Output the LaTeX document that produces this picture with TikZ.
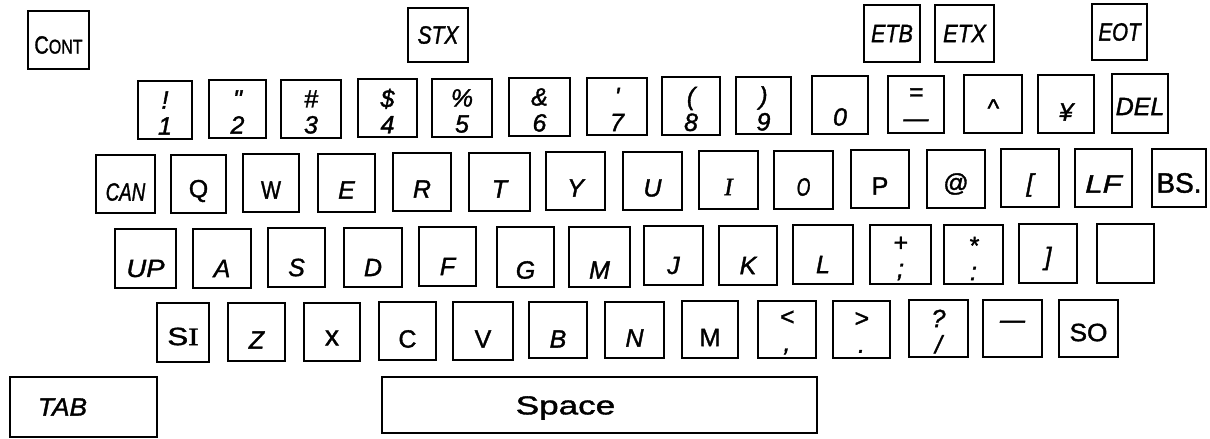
\documentclass[tikz,border=0pt]{standalone}
\usepackage{fontspec}
\usepackage{graphicx}
\newfontfamily\hand{Liberation Sans}[FakeBold=1.4]
\newfontfamily\handserif{Liberation Serif}[FakeBold=1.4]
\newcommand\sx[2]{\scalebox{#1}[1]{#2}}
\tikzset{
  key/.style={draw=black, line width=2.2pt, inner sep=0pt, outer sep=0pt},
  lab/.style={inner sep=0pt, outer sep=0pt, align=center, font=\hand\itshape\fontsize{25}{26}\selectfont},
}
% name, x1, y1, x2, y2, label, downward shift of label
\newcommand\kk[7]{%
  \node[key, minimum width={#4-#2}, minimum height={#5-#3}] (#1) at ({(#2+#4)/2},{(#3+#5)/2}) {};
  \node[lab] (#1t) at ([yshift={-(#7)}]#1.center) {#6};}
\begin{document}
\begin{tikzpicture}[x=1pt, y=-1pt]
\useasboundingbox (0,0) rectangle (1210,439);
% top row
\kk{kcont}{28}{11}{89}{69}{\upshape\sx{0.8}{C{\fontsize{20}{20}\selectfont ONT}}}{5}
\kk{kstx}{408}{8}{468}{62}{\sx{0.84}{STX}}{0}
\kk{ketb}{864}{5}{920}{62}{\sx{0.86}{ETB}}{0}
\kk{ketx}{935}{5}{994}{62}{\sx{0.88}{ETX}}{0}
\kk{keot}{1092}{4}{1147}{60}{\sx{0.82}{EOT}}{0}
% number row
\kk{n1}{138}{81}{192}{139}{!\\1}{3}
\kk{n2}{209}{80}{266}{138}{"\\2}{3}
\kk{n3}{281}{80}{341}{138}{\#\\3}{3}
\kk{n4}{358}{79}{417}{137}{\$\\4}{3}
\kk{n5}{432}{79}{492}{137}{\%\\5}{3}
\kk{n6}{509}{78}{570}{136}{\&\\6}{3}
\kk{n7}{587}{78}{647}{135}{'\\7}{3}
\kk{n8}{662}{77}{720}{135}{(\\8}{3}
\kk{n9}{736}{77}{791}{134}{)\\9}{3}
\kk{n0}{812}{76}{868}{134}{0}{12}
\kk{nminus}{888}{76}{944}{133}{=\\—}{3}
\kk{ncaret}{964}{75}{1022}{133}{\textasciicircum}{4}
\kk{nyen}{1038}{75}{1094}{133}{¥}{8}
\kk{ndel}{1112}{74}{1168}{133}{DEL}{3}
% QWERTY row
\kk{qcan}{96}{155}{155}{213}{\sx{0.75}{CAN}}{8}
\kk{qq}{171}{155}{226}{213}{\upshape Q}{7}
\kk{qw}{243}{154}{299}{212}{\upshape\sx{0.85}{W}}{7}
\kk{qe}{318}{154}{375}{212}{E}{7}
\kk{qr}{393}{153}{451}{211}{R}{7}
\kk{qt}{469}{153}{530}{211}{T}{7}
\kk{qy}{546}{152}{605}{210}{Y}{7}
\kk{qu}{623}{152}{682}{210}{U}{7}
\kk{qi}{699}{151}{758}{209}{{\handserif\itshape I}}{7}
\kk{qo}{774}{151}{833}{209}{\sx{0.7}{O}}{7}
\kk{qp}{851}{150}{909}{208}{\upshape P}{7}
\kk{qat}{927}{150}{985}{208}{\upshape @}{5}
\kk{qlbr}{1001}{149}{1059}{207}{[}{7}
\kk{qlf}{1075}{149}{1132}{207}{\sx{1.25}{LF}}{6}
\kk{qbs}{1152}{149}{1206}{207}{\upshape\fontsize{28}{28}\selectfont BS.}{5}
% ASDF row
\kk{aup}{115}{229}{176}{288}{\sx{1.1}{UP}}{10}
\kk{aa}{193}{229}{251}{288}{A}{10}
\kk{as}{268}{228}{325}{287}{S}{10}
\kk{ad}{344}{228}{402}{287}{D}{10}
\kk{af}{419}{227}{476}{286}{F}{10}
\kk{ag}{497}{227}{554}{287}{G}{13}
\kk{am}{569}{227}{630}{287}{M}{13}
\kk{aj}{644}{226}{703}{285}{J}{10}
\kk{ak}{719}{226}{777}{285}{K}{10}
\kk{al}{793}{225}{853}{284}{L}{10}
\kk{asemi}{870}{225}{931}{284}{+\\;}{4}
\kk{acolon}{944}{225}{1003}{284}{*\\:}{4}
\kk{arbr}{1019}{224}{1077}{283}{]}{5}
\kk{ablank}{1097}{224}{1154}{283}{}{0}
% ZXCV row
\kk{zsi}{157}{303}{209}{362}{\upshape\sx{1.25}{S{\handserif I}}}{4}
\kk{zz}{228}{303}{285}{361}{Z}{8}
\kk{zx}{304}{303}{360}{361}{\upshape\fontsize{28}{28}\selectfont x}{6}
\kk{zc}{379}{302}{436}{360}{\upshape C}{8}
\kk{zv}{453}{302}{513}{360}{\upshape V}{8}
\kk{zb}{529}{302}{587}{358}{B}{9}
\kk{zn}{605}{302}{664}{358}{N}{8}
\kk{zm}{682}{301}{738}{358}{\upshape M}{8}
\kk{zcomma}{758}{301}{816}{358}{<\\,}{3}
\kk{zdot}{833}{301}{890}{358}{>\\.}{3}
\kk{zslash}{909}{300}{968}{357}{?\\/}{3}
\kk{zbar}{983}{300}{1042}{357}{—}{-4}
\kk{zso}{1059}{300}{1118}{357}{\upshape\sx{1.05}{SO}}{4}
% bottom row
\node[key, minimum width=147, minimum height=60] (tab) at (83.5,407) {};
\node[lab] (tabt) at ([xshift=-21pt]tab.center) {\sx{1.05}{TAB}};
\node[key, minimum width=435, minimum height=56] (space) at (599.5,405) {};
\node[lab, font=\hand\fontsize{26}{28}\selectfont] (spacet) at ([xshift=-34pt,yshift=-3pt]space.center) {\sx{1.35}{Space}};
\end{tikzpicture}
\end{document}
